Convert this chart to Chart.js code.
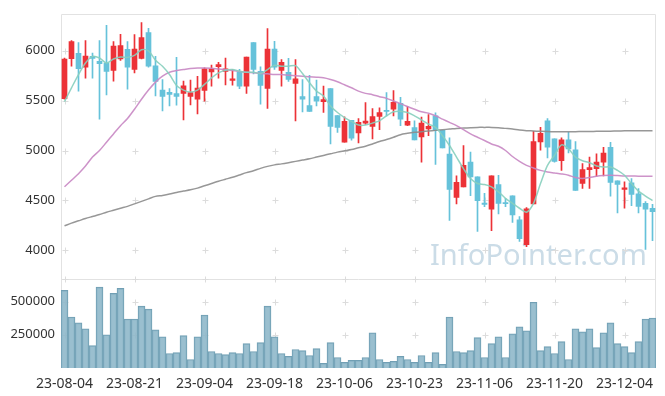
<!DOCTYPE html>
<html>
<head>
<meta charset="utf-8">
<script src="https://cdn.jsdelivr.net/npm/chart.js@4.4.0/dist/chart.umd.min.js"></script>
<style>
  html, body { margin: 0; padding: 0; background: #fff; }
  #wrap { width: 665px; height: 396px; position: relative; }
</style>
</head>
<body>
<div id="wrap"><canvas id="stockChart"></canvas></div>
<script>
/* ===== DATA ===== */
const dates = [
  '23-08-04','23-08-07','23-08-08','23-08-09','23-08-10','23-08-11','23-08-14','23-08-16','23-08-17','23-08-18',
  '23-08-21','23-08-22','23-08-23','23-08-24','23-08-25','23-08-28','23-08-29','23-08-30','23-08-31','23-09-01',
  '23-09-04','23-09-05','23-09-06','23-09-07','23-09-08','23-09-11','23-09-12','23-09-13','23-09-14','23-09-15',
  '23-09-18','23-09-19','23-09-20','23-09-21','23-09-22','23-09-25','23-09-26','23-09-27','23-10-04','23-10-05',
  '23-10-06','23-10-10','23-10-11','23-10-12','23-10-13','23-10-16','23-10-17','23-10-18','23-10-19','23-10-20',
  '23-10-23','23-10-24','23-10-25','23-10-26','23-10-27','23-10-30','23-10-31','23-11-01','23-11-02','23-11-03',
  '23-11-06','23-11-07','23-11-08','23-11-09','23-11-10','23-11-13','23-11-14','23-11-15','23-11-16','23-11-17',
  '23-11-20','23-11-21','23-11-22','23-11-23','23-11-24','23-11-27','23-11-28','23-11-29','23-11-30','23-12-01',
  '23-12-04','23-12-05','23-12-06','23-12-07','23-12-08'
];

const opens = [
  5520,5921,5974,5835,5944,5894,5878,5802,5918,6014,
  5812,5924,6183,5848,5606,5583,5570,5573,5543,5514,
  5603,5788,5841,5792,5702,5785,5646,6083,5795,5623,
  6017,5802,5785,5673,5540,5451,5540,5490,5620,5351,
  5083,5302,5176,5275,5242,5341,5404,5414,5474,5255,
  5229,5136,5216,5348,5202,4964,4530,4636,4884,4735,
  4474,4411,4659,4477,4546,4305,4056,4464,5086,5298,
  5116,4898,5106,5007,4669,4808,4818,4884,5033,4696,
  4609,4676,4566,4470,4421
];
const highs = [
  5928,6103,6083,6103,5977,6103,6255,6093,6166,6093,
  6163,6282,6226,5944,5712,5620,5934,5696,5706,5745,
  5828,5858,5884,5928,5812,5815,5938,6083,5838,6222,
  6096,5911,5924,5911,5712,5755,5706,5646,5620,5351,
  5338,5302,5321,5480,5421,5427,5580,5600,5533,5444,
  5298,5335,5361,5378,5202,5126,4745,5050,4984,4735,
  4570,4745,4752,4520,4546,4338,4427,5192,5232,5321,
  5116,5126,5182,5090,4868,4934,4967,5033,5083,4696,
  4686,4719,4619,4487,4460
];
const lows = [
  5514,5845,5596,5726,5726,5315,5557,5696,5904,5616,
  5779,5918,5835,5547,5398,5447,5454,5308,5457,5368,
  5494,5646,5726,5659,5656,5620,5573,5769,5464,5421,
  5812,5646,5692,5298,5388,5391,5447,5381,5066,5182,
  5083,5103,5076,5262,5116,5209,5348,5348,5249,5248,
  5106,4884,5149,4861,5027,4298,4464,4636,4546,4189,
  4437,4195,4364,4437,4278,4089,4036,4464,5004,4927,
  4884,4801,4977,4599,4619,4619,4742,4745,4543,4374,
  4421,4447,4374,4007,4096
];
const closes = [
  5918,6093,5822,5947,5924,5871,5792,6047,6053,5835,
  6017,6133,5845,5692,5543,5563,5543,5649,5580,5626,
  5818,5818,5861,5818,5719,5646,5938,5812,5653,6017,
  5835,5885,5712,5719,5514,5391,5494,5510,5242,5232,
  5292,5123,5282,5295,5341,5381,5391,5484,5315,5292,
  5106,5275,5242,5199,5027,4609,4682,4851,4735,4497,
  4460,4745,4470,4467,4354,4116,4414,5090,5172,5033,
  4891,5106,5017,4599,4808,4828,4884,4974,4679,4659,
  4626,4560,4440,4411,4387
];
const volumes = [
  584000,384000,339000,295000,168000,609000,250000,562000,599000,369000,
  369000,465000,443000,287000,235000,109000,116000,243000,64000,235000,
  399000,124000,109000,101000,116000,109000,183000,124000,191000,465000,
  235000,109000,87000,139000,131000,94000,146000,35000,191000,79000,
  42000,57000,57000,79000,265000,64000,42000,50000,87000,64000,
  42000,94000,42000,116000,27000,384000,124000,116000,131000,228000,
  79000,183000,235000,79000,257000,309000,280000,495000,131000,161000,
  109000,198000,64000,295000,272000,295000,153000,265000,339000,183000,
  161000,116000,198000,369000,376000
];

const ma5 = [
  5490,5629,5762,5878,5944,5928,5878,5918,5938,5934,
  5954,6010,6000,5905,5845,5762,5653,5606,5586,5606,
  5663,5729,5779,5805,5812,5795,5785,5785,5772,5812,
  5855,5845,5845,5851,5772,5679,5596,5547,5447,5381,
  5331,5292,5255,5255,5275,5298,5348,5388,5394,5381,
  5348,5308,5265,5232,5149,5050,4934,4818,4719,4669,
  4659,4636,4586,4520,4470,4421,4381,4470,4669,4851,
  4951,5057,5017,4934,4898,4878,4845,4835,4835,4801,
  4752,4669,4593,4543,4497
];
const ma20 = [
  4636,4702,4768,4845,4934,5000,5083,5166,5249,5321,
  5414,5514,5606,5686,5745,5785,5802,5812,5822,5828,
  5828,5825,5818,5812,5802,5792,5785,5779,5772,5769,
  5762,5762,5755,5749,5745,5739,5735,5729,5712,5689,
  5659,5629,5596,5573,5560,5540,5523,5497,5470,5441,
  5414,5388,5374,5348,5315,5282,5249,5209,5166,5133,
  5100,5066,5043,5000,4940,4891,4851,4825,4801,4785,
  4775,4765,4752,4729,4719,4729,4742,4749,4752,4749,
  4745,4745,4742,4742,4742
];
const ma60 = [
  4245,4272,4295,4318,4338,4358,4381,4401,4421,4440,
  4465,4490,4515,4540,4550,4563,4580,4593,4606,4623,
  4646,4669,4692,4712,4732,4755,4778,4798,4821,4841,
  4856,4866,4878,4891,4904,4917,4934,4951,4967,4984,
  4997,5010,5027,5043,5066,5090,5110,5133,5159,5172,
  5182,5189,5196,5202,5209,5215,5222,5225,5229,5232,
  5232,5232,5229,5222,5215,5205,5199,5196,5192,5190,
  5189,5189,5189,5189,5190,5190,5192,5193,5194,5196,
  5197,5198,5199,5199,5199
];

const priceTicks = [4000, 4500, 5000, 5500, 6000];
const volumeTicks = [250000, 500000];

/* ===== COLOURS ===== */
const UP = '#ec3237';
const DOWN = '#66c2da';
const FONT = { family: "'Noto Sans', sans-serif", size: 13 };
const XFONT = { family: "'Noto Sans', sans-serif", size: 14 };
const LABEL = '#333';
const FRAME = '#e2e2e2';

const candleColors = opens.map((o, i) => closes[i] >= o ? UP : DOWN);
const bodies = opens.map((o, i) => [o, closes[i]]);
const wicks = lows.map((l, i) => [l, highs[i]]);

/* ===== FRAME / GRID CROSSES / WATERMARK ===== */
const decor = {
  id: 'decor',
  beforeDatasetsDraw(chart) {
    const { ctx, chartArea: a, scales } = chart;
    const px = scales.price, vs = scales.vol, xs = scales.x;
    ctx.save();
    // watermark
    ctx.fillStyle = '#cbdce7';
    let size = 31;
    ctx.font = size + "px 'Noto Sans', sans-serif";
    const w = ctx.measureText('InfoPointer.com').width;
    size = size * 217 / w;
    ctx.font = size + "px 'Noto Sans', sans-serif";
    ctx.textBaseline = 'alphabetic';
    ctx.fillText('InfoPointer.com', 430, 265);
    // frame
    ctx.strokeStyle = FRAME;
    ctx.lineWidth = 1;
    ctx.beginPath();
    ctx.moveTo(Math.round(a.left) + 0.5, a.bottom);
    ctx.lineTo(Math.round(a.left) + 0.5, Math.round(a.top) + 0.5);
    ctx.lineTo(Math.round(a.right) - 0.5, Math.round(a.top) + 0.5);
    ctx.lineTo(Math.round(a.right) - 0.5, a.bottom);
    ctx.moveTo(a.left, Math.round(px.bottom) + 0.5);
    ctx.lineTo(a.right, Math.round(px.bottom) + 0.5);
    ctx.stroke();
    // crosses
    ctx.strokeStyle = '#dcdcdc';
    const ys = priceTicks.map(v => px.getPixelForValue(v))
      .concat(volumeTicks.map(v => vs.getPixelForValue(v)), [px.bottom]);
    ctx.beginPath();
    for (let i = 0; i < dates.length; i += 10) {
      const x = Math.round(xs.getPixelForValue(i)) + 0.5;
      ys.forEach(y0 => {
        const y = Math.round(y0) + 0.5;
        ctx.moveTo(x - 3, y); ctx.lineTo(x + 3, y);
        ctx.moveTo(x, y - 3); ctx.lineTo(x, y + 3);
      });
    }
    ctx.stroke();
    ctx.restore();
  }
};

/* ===== CHART ===== */
new Chart(document.getElementById('stockChart'), {
  type: 'bar',
  data: {
    labels: dates,
    datasets: [
      { type: 'line', label: 'MA5', data: ma5, yAxisID: 'price', borderColor: 'rgba(135,207,190,0.9)',
        borderWidth: 1.5, pointRadius: 0, tension: 0.3, order: 0 },
      { type: 'line', label: 'MA20', data: ma20, yAxisID: 'price', borderColor: 'rgba(200,135,195,0.9)',
        borderWidth: 1.5, pointRadius: 0, tension: 0.3, order: 1 },
      { type: 'line', label: 'MA60', data: ma60, yAxisID: 'price', borderColor: 'rgba(140,140,140,0.9)',
        borderWidth: 1.5, pointRadius: 0, tension: 0.3, order: 2 },
      { label: 'body', data: bodies, yAxisID: 'price', backgroundColor: candleColors,
        grouped: false, barThickness: 5, minBarLength: 1, order: 3 },
      { label: 'wick', data: wicks, yAxisID: 'price', backgroundColor: candleColors,
        grouped: false, barThickness: 1, order: 4 },
      { label: 'volume', data: volumes, yAxisID: 'vol', backgroundColor: 'rgba(140,182,200,0.88)',
        borderColor: '#719fb4', borderWidth: 1, grouped: false,
        barPercentage: 1, categoryPercentage: 1, order: 5 }
    ]
  },
  options: {
    responsive: true,
    maintainAspectRatio: false,
    animation: false,
    layout: { padding: { top: 10, right: 9, left: 0, bottom: 0 } },
    plugins: { legend: { display: false }, tooltip: { enabled: false } },
    scales: {
      x: {
        offset: true,
        grid: { display: false },
        border: { display: false },
        ticks: {
          autoSkip: false, maxRotation: 0, minRotation: 0, padding: 0,
          font: XFONT, color: LABEL,
          callback: (v, i) => i % 10 === 0 ? dates[i] : ''
        },
        afterFit: s => { s.height = 28; }
      },
      vol: {
        type: 'linear', position: 'left', stack: 'main', stackWeight: 90,
        min: 0, max: 670000,
        grid: { display: false, drawTicks: false },
        border: { display: false },
        ticks: { padding: 6, font: FONT, color: LABEL, callback: v => String(v) },
        afterBuildTicks: s => { s.ticks = volumeTicks.map(v => ({ value: v })); },
        afterFit: s => { s.width = 61; }
      },
      price: {
        type: 'linear', position: 'left', stack: 'main', stackWeight: 268,
        min: 3712, max: 6371,
        grid: { display: false, drawTicks: false },
        border: { display: false },
        ticks: { padding: 6, font: FONT, color: LABEL, callback: v => String(v) },
        afterBuildTicks: s => { s.ticks = priceTicks.map(v => ({ value: v })); },
        afterFit: s => { s.width = 61; }
      }
    }
  },
  plugins: [decor]
});
</script>
</body>
</html>
